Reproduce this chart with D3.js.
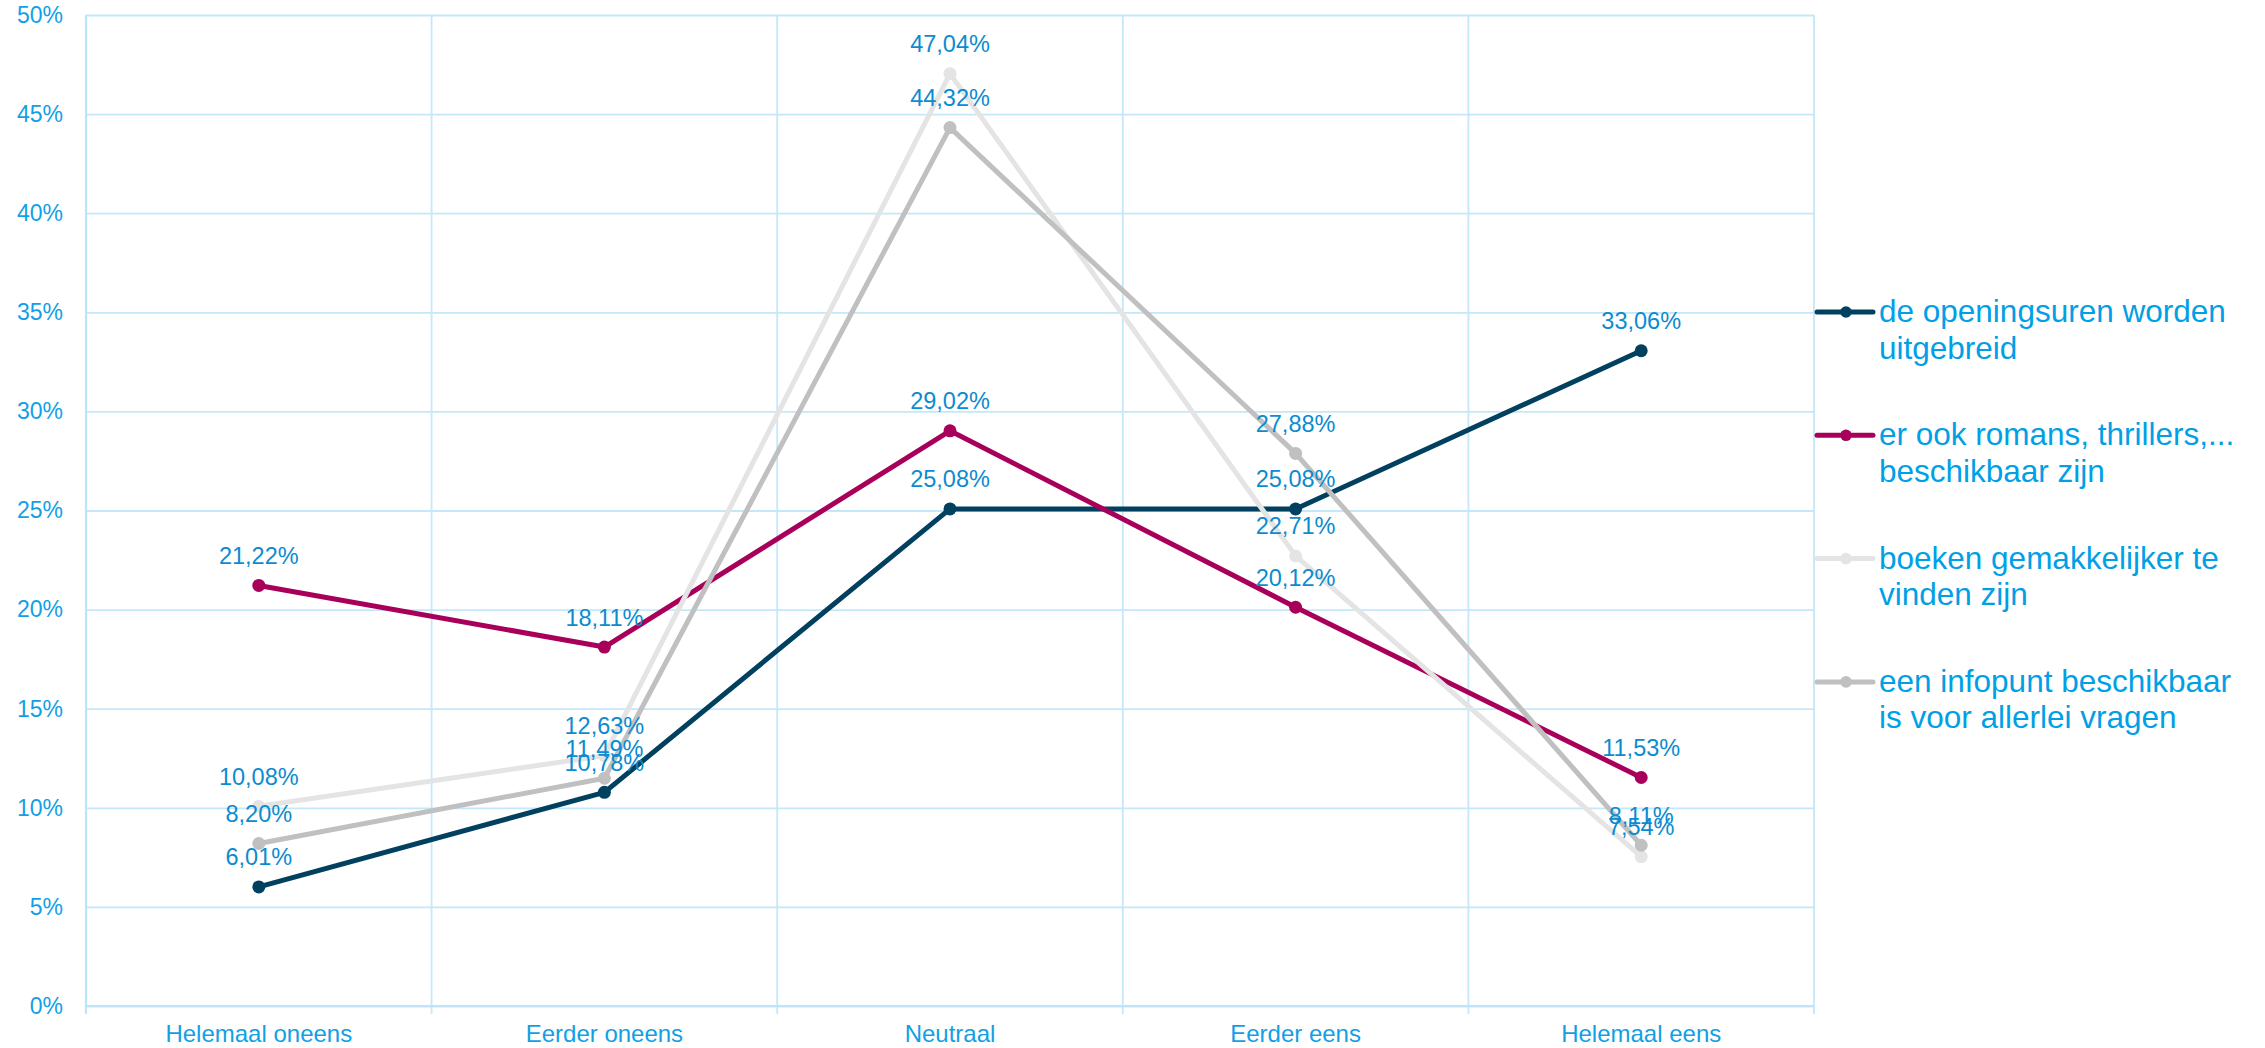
<!DOCTYPE html>
<html>
<head>
<meta charset="utf-8">
<script src="https://cdn.jsdelivr.net/npm/d3@7"></script>
<style>
    body { margin: 0; background: #ffffff; }
    #chart { width: 2265px; height: 1048px; }
    text { font-family: "Liberation Sans", Arial, sans-serif; }
</style>
</head>
<body>
<div id="chart"></div>
<script>

const categories = ["Helemaal oneens", "Eerder oneens", "Neutraal", "Eerder eens", "Helemaal eens"];

const seriesNames = [
    "de openingsuren worden uitgebreid",
    "er ook romans, thrillers,... beschikbaar zijn",
    "boeken gemakkelijker te vinden zijn",
    "een infopunt beschikbaar is voor allerlei vragen"
];

/*  legend lines as wrapped in the original  */
const legendLines = [
    ["de openingsuren worden", "uitgebreid"],
    ["er ook romans, thrillers,...", "beschikbaar zijn"],
    ["boeken gemakkelijker te", "vinden zijn"],
    ["een infopunt beschikbaar", "is voor allerlei vragen"]
];

const openingsuren = [6.01, 10.78, 25.08, 25.08, 33.06];
const romans       = [21.22, 18.11, 29.02, 20.12, 11.53];
const gemakkelijk  = [10.08, 12.63, 47.04, 22.71, 7.54];
const infopunt     = [8.20, 11.49, 44.32, 27.88, 8.11];

const yTicks = [0, 5, 10, 15, 20, 25, 30, 35, 40, 45, 50];

function LineChart() {

    let self = this;

    self.initialize = function(conf) {

        self.el     = document.getElementById(conf.el);
        self.graphWidth  = 2265;
        self.graphHeight = 1048;

        self.margin = {top: 15, left: 86, right: 451, bottom: 42};
        self.width  = self.graphWidth - self.margin.left - self.margin.right;
        self.height = self.graphHeight - self.margin.top - self.margin.bottom;

        self.colors = ["#02405f", "#a8005a", "#e4e4e4", "#c0c0c0"];
        self.gridColor  = "#c4e7fa";
        self.tickColor  = "#129fe6";
        self.labelColor = "#0b8bd0";
        self.legendColor = "#00a0e6";

        self.series = conf.series;
        self.parseData();
    }

    self.parseData = function() {

        self.xScale = d3.scaleBand()
                        .range([0, self.width])
                        .padding(0)
                        .domain(categories);

        self.yScale = d3.scaleLinear()
                        .range([self.height, 0])
                        .domain([0, 50]);

        self.render();
    }

    self.render = function() {
        self.getChartingAreaPane();
        self.renderGrid();
        self.renderAxes();
        self.renderLines();
        self.renderLabels();
        self.renderLegend();
    }

    self.getChartingAreaPane = function() {

        d3.select(self.el).selectAll("*").remove();

        self.root = d3.select(self.el).append("svg")
                        .attr("width", self.graphWidth)
                        .attr("height", self.graphHeight);

        self.svg = self.root.append("g")
                        .attr("transform", "translate(" + self.margin.left + "," + self.margin.top + ")");
    }

    self.cx = function(i) {
        return self.xScale(categories[i]) + self.xScale.bandwidth() / 2;
    }

    self.renderGrid = function() {

        /*  horizontal grid  */
        self.svg.append("g")
            .attr("class", "y grid")
            .call(d3.axisLeft(self.yScale).tickValues(yTicks).tickSize(-self.width).tickFormat(""))
            .call(g => g.select(".domain").remove())
            .selectAll("line")
            .attr("stroke", self.gridColor)
            .attr("stroke-width", 1.8);

        /*  vertical grid at category edges, running a bit below the baseline  */
        let edges = categories.map(c => self.xScale(c)).concat([self.width]);
        self.svg.append("g")
            .attr("class", "x grid")
            .selectAll("line")
            .data(edges)
            .enter().append("line")
            .attr("x1", d => d).attr("x2", d => d)
            .attr("y1", 0).attr("y2", self.height + 8)
            .attr("stroke", self.gridColor)
            .attr("stroke-width", 1.8);
    }

    self.renderAxes = function() {

        let yAxis = self.svg.append("g")
                        .attr("class", "y axis")
                        .call(d3.axisLeft(self.yScale).tickValues(yTicks).tickSize(0).tickPadding(23)
                              .tickFormat(d => d + "%"));
        yAxis.select(".domain").remove();
        yAxis.selectAll("text")
            .attr("fill", self.tickColor)
            .style("font-size", "23px");

        /*  axis lines  */
        self.svg.append("line")
            .attr("x1", 0).attr("x2", 0)
            .attr("y1", 0).attr("y2", self.height + 8)
            .attr("stroke", "#bde5fa")
            .attr("stroke-width", 2.2);

        self.svg.append("line")
            .attr("x1", 0).attr("x2", self.width)
            .attr("y1", self.height).attr("y2", self.height)
            .attr("stroke", "#bde5fa")
            .attr("stroke-width", 2.2);

        let xAxis = self.svg.append("g")
                        .attr("class", "x axis")
                        .attr("transform", "translate(0," + self.height + ")")
                        .call(d3.axisBottom(self.xScale).tickSize(0).tickPadding(0));
        xAxis.select(".domain").remove();
        xAxis.selectAll("text")
            .attr("fill", self.tickColor)
            .attr("dy", null)
            .attr("y", 36)
            .style("font-size", "24px");
    }

    self.renderLines = function() {

        let line = d3.line()
                    .x((d, i) => self.cx(i))
                    .y(d => self.yScale(d));

        self.series.forEach(function(s, k) {
            let g = self.svg.append("g").attr("class", "series series-" + k);

            g.append("path")
                .datum(s.values)
                .attr("d", line)
                .attr("fill", "none")
                .attr("stroke", self.colors[k])
                .attr("stroke-width", 5)
                .attr("stroke-linejoin", "round");

            g.selectAll("circle")
                .data(s.values)
                .enter().append("circle")
                .attr("cx", (d, i) => self.cx(i))
                .attr("cy", d => self.yScale(d))
                .attr("r", 6.5)
                .attr("fill", self.colors[k]);
        });
    }

    self.renderLabels = function() {

        let fmt = d3.format(".2f");

        self.series.forEach(function(s, k) {
            self.svg.append("g")
                .attr("class", "labels labels-" + k)
                .selectAll("text")
                .data(s.values)
                .enter().append("text")
                .attr("x", (d, i) => self.cx(i))
                .attr("y", d => self.yScale(d) - 21.5)
                .attr("text-anchor", "middle")
                .attr("fill", self.labelColor)
                .style("font-size", "23.5px")
                .text(d => fmt(d).replace(".", ",") + "%");
        });
    }

    self.renderLegend = function() {

        let legend = self.root.append("g")
                        .attr("class", "legend")
                        .attr("transform", "translate(1817,312)");

        let item = legend.selectAll(".legend-item")
                        .data(self.series)
                        .enter().append("g")
                        .attr("class", "legend-item")
                        .attr("transform", (d, i) => "translate(0," + (i * 123.3) + ")");

        item.append("line")
            .attr("x1", 0).attr("x2", 56)
            .attr("y1", 0).attr("y2", 0)
            .attr("stroke", (d, i) => self.colors[i])
            .attr("stroke-width", 5)
            .attr("stroke-linecap", "round");

        item.append("circle")
            .attr("cx", 29).attr("cy", 0)
            .attr("r", 5.8)
            .attr("fill", (d, i) => self.colors[i]);

        item.append("text")
            .attr("fill", self.legendColor)
            .style("font-size", "31.5px")
            .selectAll("tspan")
            .data((d, i) => legendLines[i])
            .enter().append("tspan")
            .attr("x", 62)
            .attr("y", (d, j) => 10 + j * 36.6)
            .text(d => d);
    }
}

let chart = new LineChart();
chart.initialize({
    el: "chart",
    series: seriesNames.map((name, i) => ({
        name: name,
        values: [openingsuren, romans, gemakkelijk, infopunt][i]
    }))
});

</script>
</body>
</html>
